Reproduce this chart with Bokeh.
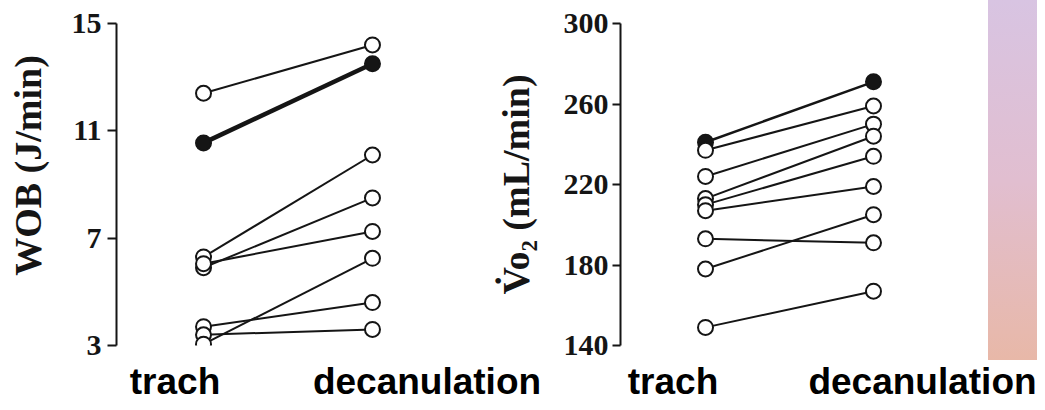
from bokeh.plotting import figure
from bokeh.models import Range1d, FactorRange, FixedTicker, Div, ColumnDataSource
from bokeh.core.properties import value
from bokeh.layouts import row, column
from bokeh.embed import file_html
from bokeh.resources import INLINE

# ---------------- data ----------------
conditions = ["trach", "decanulation"]

wob_trach = [12.4, 10.55, 6.3, 5.9, 6.05, 3.7, 3.4, 3.05]
wob_decan = [14.2, 13.5, 10.1, 8.5, 7.25, 4.6, 3.6, 6.25]
wob_filled = [False, True, False, False, False, False, False, False]
wob_ticks = [3, 7, 11, 15]

vo2_trach = [241, 237, 224, 213, 210, 207, 193, 178, 149]
vo2_decan = [271, 259, 250, 244, 234, 219, 191, 205, 167]
vo2_filled = [True, False, False, False, False, False, False, False, False]
vo2_ticks = [140, 180, 220, 260, 300]

bottom_labels = ["trach", "decanulation", "trach", "decanulation"]

# ---------------- layout constants ----------------
SERIF = "Liberation Serif"
INK = "#151515"
NBSP = "\u00a0"
PANEL_H = 360


def panel(width, b_left, b_right, pad, yr, ticks, trach, decan, filled, thick_w,
          tick_out, standoff, label):
    p = figure(width=width, height=PANEL_H, output_backend="svg", toolbar_location=None,
               x_range=FactorRange(factors=conditions, range_padding=pad,
                                   range_padding_units="absolute"),
               y_range=Range1d(*yr),
               min_border_left=b_left, min_border_right=b_right,
               min_border_top=23, min_border_bottom=15)
    p.xaxis.visible = False
    p.grid.visible = False
    p.outline_line_color = None
    ya = p.yaxis[0]
    ya.ticker = FixedTicker(ticks=ticks)
    ya.minor_tick_line_color = None
    ya.major_tick_in = 0
    ya.major_tick_out = tick_out
    ya.major_tick_line_width = 2
    ya.major_tick_line_color = INK
    ya.axis_line_width = 2
    ya.axis_line_color = INK
    ya.major_label_standoff = standoff
    ya.major_label_text_font = SERIF
    ya.major_label_text_font_size = "30px"
    ya.major_label_text_font_style = "bold"
    ya.major_label_text_color = INK
    ya.axis_label = label
    ya.axis_label_text_font = SERIF
    ya.axis_label_text_font_size = "38px"
    ya.axis_label_text_font_style = "bold"
    ya.axis_label_text_color = INK
    ya.axis_label_standoff = 20

    for a, b, f in zip(trach, decan, filled):
        p.line(x=conditions, y=[a, b], line_color=INK,
               line_width=thick_w if f else 2)

    xs = [conditions[0]] * len(trach) + [conditions[1]] * len(decan)
    ys = list(trach) + list(decan)
    fs = list(filled) + list(filled)
    src = ColumnDataSource(dict(x=xs, y=ys,
                                fill=[INK if f else "white" for f in fs]))
    p.scatter(x="x", y="y", source=src, marker="circle", size=15,
              fill_color="fill", line_color=INK, line_width=2)
    return p


# left label is set a little above the panel's centre, as in the original
p1 = panel(480, 116, 21, 0.015, (3, 15), wob_ticks, wob_trach, wob_decan,
           wob_filled, 4.5, 9, 6, NBSP * 4 + "WOB (J/min)")
p2 = panel(508, 140, 30, 0.006, (140, 300), vo2_ticks, vo2_trach, vo2_decan,
           vo2_filled, 2.5, 8, 4, "V\u0307o\u2082 (mL/min)")
p2.yaxis.axis_label_standoff = 24

grad = Div(width=49, height=PANEL_H, margin=0,
           styles={"background": "linear-gradient(to bottom, #d8c4e2, #e1bed0, #e8b8a8)"})

# bottom strip with the condition names
STRIP_H = 402 - PANEL_H
label_x = [174.5, 426.5, 672.5, 922.0]
label_y = [21, 21, 21, 21]
strip = figure(width=1037, height=STRIP_H, output_backend="svg", toolbar_location=None,
               x_range=Range1d(0, 1037), y_range=Range1d(STRIP_H, 0),
               x_axis_type=None, y_axis_type=None,
               min_border_left=0, min_border_right=0, min_border_top=0,
               min_border_bottom=0)
strip.grid.visible = False
strip.outline_line_color = None
strip.text(x=label_x, y=label_y, text=bottom_labels,
           text_font=value("Liberation Sans"), text_font_style="bold",
           text_font_size="37px", text_color="black",
           text_align="center", text_baseline="middle")

layout = column(row(p1, p2, grad, spacing=0), strip, spacing=0)

open("out.html", "w").write(file_html(layout, INLINE))
